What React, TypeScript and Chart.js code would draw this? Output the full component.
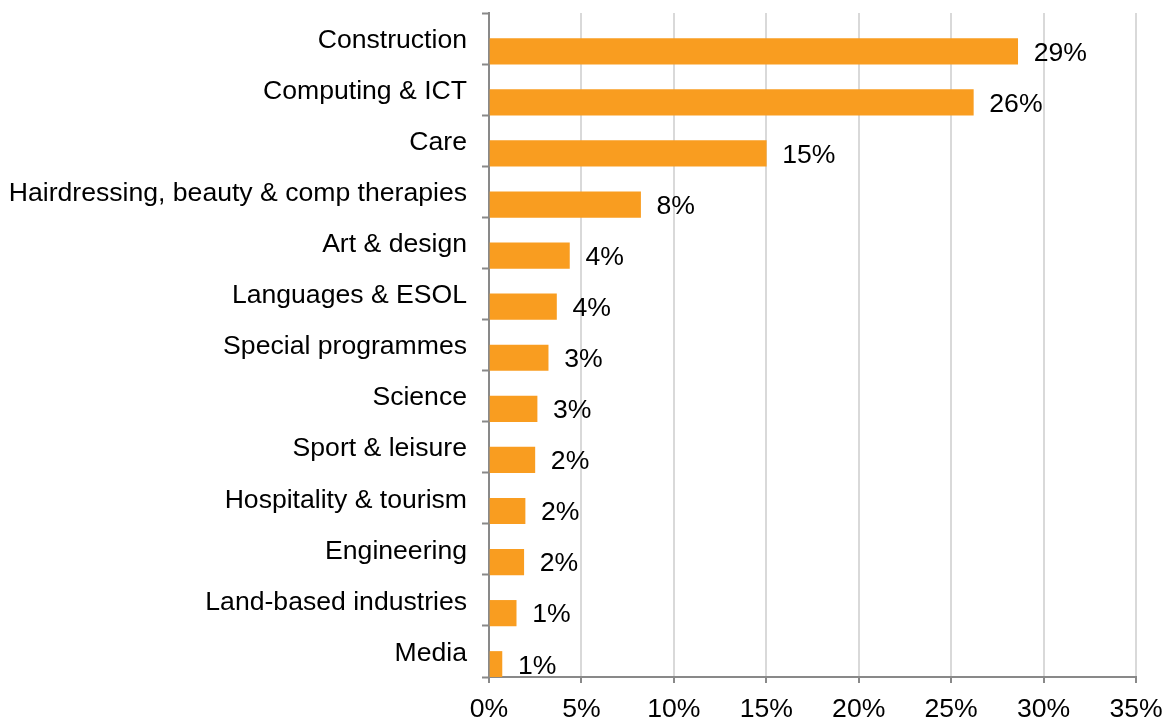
import React, { useEffect, useRef } from "react";
import { Chart, registerables } from "chart.js";

Chart.register(...registerables);

const categories = [
  "Construction",
  "Computing & ICT",
  "Care",
  "Hairdressing, beauty & comp therapies",
  "Art & design",
  "Languages & ESOL",
  "Special programmes",
  "Science",
  "Sport & leisure",
  "Hospitality & tourism",
  "Engineering",
  "Land-based industries",
  "Media",
];

const shares = [28.6, 26.2, 15.0, 8.2, 4.35, 3.65, 3.2, 2.6, 2.48, 1.95, 1.88, 1.47, 0.7];

const spacer = categories.map(() => null);

const xTicks = { min: 0, max: 35, step: 5 };

const FONT = "'Liberation Sans', Arial, sans-serif";
const FS = 26.6;
const ORANGE = "#F99D20";
const AXIS = "#898989";
const GRID = "#d9d9d9";

const valueLabels = {
  id: "valueLabels",
  afterDatasetsDraw(chart: any) {
    const ctx = chart.ctx;
    const meta = chart.getDatasetMeta(1);
    ctx.save();
    ctx.font = `${FS}px ${FONT}`;
    ctx.fillStyle = "#000";
    ctx.textAlign = "left";
    ctx.textBaseline = "middle";
    meta.data.forEach((bar: any, i: number) => {
      const v = shares[i];
      ctx.fillText(`${Math.round(v)}%`, bar.x + 16, bar.y + 2);
    });
    ctx.restore();
  },
};

export default function App() {
  const ref = useRef<HTMLCanvasElement | null>(null);

  useEffect(() => {
    if (!ref.current) return;
    const chart = new Chart(ref.current, {
      type: "bar",
      data: {
        labels: categories,
        datasets: [
          { label: "spacer", data: spacer as any, backgroundColor: "rgba(0,0,0,0)" },
          { label: "Share", data: shares, backgroundColor: ORANGE, borderWidth: 0 },
        ],
      },
      options: {
        indexAxis: "y",
        responsive: false,
        animation: false,
        events: [],
        layout: { padding: { top: 13, right: 27, bottom: 0, left: 0 } },
        datasets: { bar: { categoryPercentage: 1, barPercentage: 1 } },
        plugins: {
          legend: { display: false },
          tooltip: { enabled: false },
          title: { display: false },
        },
        scales: {
          x: {
            type: "linear",
            min: xTicks.min,
            max: xTicks.max,
            afterFit: (s: any) => {
              s.height = 45;
              s.paddingLeft = 0;
              s.paddingRight = 0;
            },
            ticks: {
              stepSize: xTicks.step,
              padding: 11,
              color: "#000",
              font: { family: FONT, size: FS },
              callback: (v: any) => `${v}%`,
            },
            grid: {
              color: GRID,
              lineWidth: 2,
              tickColor: AXIS,
              tickLength: 6,
              tickWidth: 2,
            },
            border: { color: AXIS, width: 2 },
          },
          y: {
            type: "category",
            afterFit: (s: any) => {
              s.width = 489;
              s.paddingTop = 0;
              s.paddingBottom = 0;
            },
            ticks: {
              padding: 15,
              labelOffset: 2,
              color: "#000",
              font: { family: FONT, size: FS },
              autoSkip: false,
            },
            grid: {
              offset: true,
              drawOnChartArea: false,
              tickColor: AXIS,
              tickLength: 7,
              tickWidth: 2,
            },
            border: { color: AXIS, width: 2 },
          },
        },
      },
      plugins: [valueLabels],
    });
    return () => chart.destroy();
  }, []);

  return (
    <div style={{ position: "fixed", left: 0, top: 0, width: 1163, height: 722, background: "#fff" }}>
      <canvas ref={ref} width={1163} height={722} style={{ display: "block" }} />
    </div>
  );
}
